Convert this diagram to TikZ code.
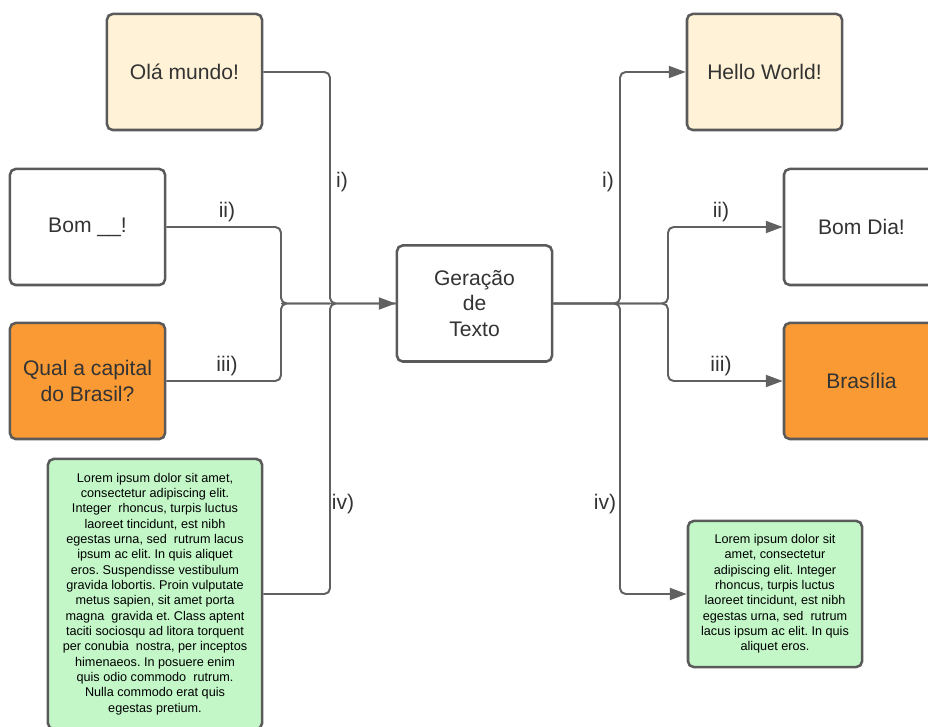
\documentclass[tikz,border=0pt]{standalone}
\usepackage{fontspec}
\setmainfont{Liberation Sans}
\usetikzlibrary{arrows.meta}
\frenchspacing

\definecolor{linegray}{HTML}{616161}
\definecolor{boxgray}{HTML}{5A5A5A}
\definecolor{txtgray}{HTML}{333333}
\definecolor{cream}{HTML}{FFF2D6}
\definecolor{orangebox}{HTML}{F99A35}
\definecolor{greenbox}{HTML}{C3F7C8}

\begin{document}
\begin{tikzpicture}[x=0.025cm,y=-0.025cm,
	card/.style={draw=boxgray,line width=1.8pt,rounded corners=4pt,align=center,text=txtgray,
		font=\fontsize{15}{18.4}\selectfont,minimum width=3.875cm,minimum height=2.9cm,inner sep=0pt},
	lorem/.style={card,text=black,font=\fontsize{9}{10.9}\selectfont,fill=greenbox},
	wire/.style={draw=linegray,line width=1.4pt,rounded corners=4pt},
	tip/.style={wire,-{Triangle[length=12pt,width=8.5pt]}},
	tag/.style={text=txtgray,font=\fontsize{15}{18}\selectfont,inner sep=0pt}]
	\useasboundingbox (0,0) rectangle (928,727);

	% entradas
	\node[card,fill=cream] (ola) at (184.5,72) {Olá mundo!};
	\node[card,fill=white] (bom) at (87.5,227) {Bom \_\_!};
	\node[card,fill=orangebox] (qual) at (87.5,381) {Qual a capital\\do Brasil?};
	\node[lorem,minimum width=5.35cm,minimum height=6.75cm] (lorema) at (155,594) {Lorem ipsum dolor sit amet,\\consectetur adipiscing elit.\\Integer\ \ rhoncus, turpis luctus\\laoreet tincidunt, est nibh\\egestas urna, sed\ \ rutrum lacus\\ipsum ac elit. In quis aliquet\\eros. Suspendisse vestibulum\\gravida lobortis. Proin vulputate\\metus sapien, sit amet porta\\magna\ \ gravida et. Class aptent\\taciti sociosqu ad litora torquent\\per conubia\ \ nostra, per inceptos\\himenaeos. In posuere enim\\quis odio commodo\ \ rutrum.\\Nulla commodo erat quis\\egestas pretium.};

	% modelo
	\node[card,fill=white] (gen) at (474.5,303.5) {Geração\\de\\Texto};

	% saidas
	\node[card,fill=cream] (hello) at (764.5,72) {Hello World!};
	\node[card,fill=white] (bomdia) at (861.5,227) {Bom Dia!};
	\node[card,fill=orangebox] (bsb) at (861.5,381) {Brasília};
	\node[lorem,minimum width=4.35cm,minimum height=3.65cm] (loremb) at (775,594) {Lorem ipsum dolor sit\\amet, consectetur\\adipiscing elit. Integer\\rhoncus, turpis luctus\\laoreet tincidunt, est nibh\\egestas urna, sed\ \ rutrum\\lacus ipsum ac elit. In quis\\aliquet eros.};

	\coordinate (jl1) at (281,303.5);
	\coordinate (jl2) at (330,303.5);
	\coordinate (jr1) at (620,303.5);
	\coordinate (jr2) at (668,303.5);

	% ligacoes
	\draw[wire] (ola.east) -| (jl2) -- (gen.west);
	\draw[wire] (bom.east) -| (jl1) -- (jl2);
	\draw[wire] (qual.east) -| (jl1) -- (jl2);
	\draw[wire] (lorema.east) -| (jl2) -- (gen.west);
	\draw[tip] (jl1) -- (gen.west);

	\draw[tip] (gen.east) -- (jr1) |- (hello.west);
	\draw[tip] (gen.east) -- (jr2) |- (bomdia.west);
	\draw[tip] (gen.east) -- (jr2) |- (bsb.west);
	\draw[tip] (gen.east) -- (jr1) |- (loremb.west);

	\node[tag] (ta) at (342,182) {i)};
	\node[tag] (tb) at (227,212) {ii)};
	\node[tag] (tc) at (227,366) {iii)};
	\node[tag] (td) at (343,504) {iv)};
	\node[tag] (te) at (608,182) {i)};
	\node[tag] (tf) at (721,212) {ii)};
	\node[tag] (tg) at (721,366) {iii)};
	\node[tag] (th) at (605,504) {iv)};
\end{tikzpicture}
\end{document}
